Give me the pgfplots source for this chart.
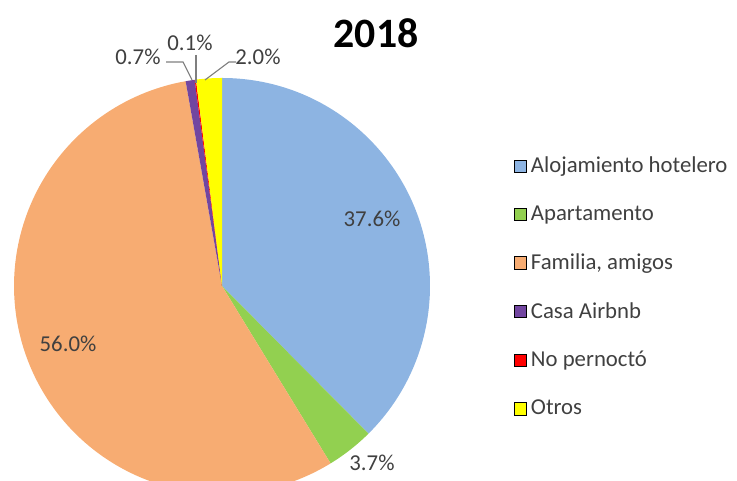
\documentclass[border=0pt]{standalone}
\usepackage{pgfplots}
\pgfplotsset{compat=1.18}
\usepackage{pgfplotstable}
\usepackage{fontspec}
\setmainfont{Carlito}

\definecolor{cHotel}{HTML}{8DB4E2}
\definecolor{cApart}{HTML}{92D050}
\definecolor{cFam}{HTML}{F7AC72}
\definecolor{cAirbnb}{HTML}{7246A0}
\definecolor{cNo}{HTML}{FF0000}
\definecolor{cOtros}{HTML}{FFFF00}
\definecolor{txt}{HTML}{404040}
\definecolor{leader}{HTML}{7F7F7F}

% share of each slice, clockwise from 12 o'clock
\pgfplotstableread{
value color
37.6 cHotel
3.7 cApart
56.0 cFam
0.7 cAirbnb
0.1 cNo
2.0 cOtros
}\piedata

% start/end angles of the slices
\pgfmathsetmacro\pietotal{100.1}
\def\piecum{0}
\foreach \i in {0,...,5}{%
  \pgfplotstablegetelem{\i}{value}\of\piedata%
  \let\v\pgfplotsretval%
  \pgfplotstablegetelem{\i}{color}\of\piedata%
  \expandafter\xdef\csname pieC\i\endcsname{\pgfplotsretval}%
  \pgfmathsetmacro\s{90-\piecum/\pietotal*360}%
  \pgfmathsetmacro\e{90-(\piecum+\v)/\pietotal*360}%
  \expandafter\xdef\csname pieS\i\endcsname{\s}%
  \expandafter\xdef\csname pieE\i\endcsname{\e}%
  \pgfmathsetmacro\c{\piecum+\v}%
  \xdef\piecum{\c}%
}
\def\R{3.951cm}

\begin{document}
\begin{tikzpicture}
\begin{axis}[
  width=14cm, height=9.1368cm, scale only axis,
  xmin=0, xmax=737, ymin=0, ymax=481,
  hide axis, clip=true,
  legend cell align=left,
  legend style={at={(axis cs:508,330)}, anchor=north west, draw=none, fill=none,
    font=\fontsize{12.3}{14}\selectfont, text=txt, row sep=14.4pt,
    nodes={inner sep=1pt}},
  legend image code/.code={\fill[#1] (0pt,-3.3pt) rectangle (6.6pt,3.3pt);},
]
\coordinate (bl) at (rel axis cs:0,0);
\coordinate (tr) at (rel axis cs:1,1);
\pgfplotsinvokeforeach{0,...,5}{
  \fill[fill=\csname pieC#1\endcsname] (axis cs:222,195) -- ++(\csname pieS#1\endcsname:\R)
    arc[start angle=\csname pieS#1\endcsname, end angle=\csname pieE#1\endcsname, radius=\R] -- cycle;
}
\addlegendimage{fill=cHotel}\addlegendentry{\hspace{1.2pt}Alojamiento hotelero}
\addlegendimage{fill=cApart}\addlegendentry{\hspace{1.2pt}Apartamento}
\addlegendimage{fill=cFam}\addlegendentry{\hspace{1.2pt}Familia, amigos}
\addlegendimage{fill=cAirbnb}\addlegendentry{\hspace{1.2pt}Casa Airbnb}
\addlegendimage{fill=cNo}\addlegendentry{\hspace{1.2pt}No pernoctó}
\addlegendimage{fill=cOtros}\addlegendentry{\hspace{1.2pt}Otros}

\draw[leader, line width=0.6pt] (axis cs:166,419) -- (axis cs:183,419) -- (axis cs:192,401);
\draw[leader, line width=0.6pt] (axis cs:196,426) -- (axis cs:196,398);
\draw[leader, line width=0.6pt] (axis cs:205,401) -- (axis cs:229,419) -- (axis cs:236,419);

\begin{scope}[every node/.style={font=\fontsize{12.3}{14}\selectfont, text=txt, inner sep=0pt}]
\node at (axis cs:372,262) {37.6\%};
\node at (axis cs:68,137) {56.0\%};
\node at (axis cs:372,18) {3.7\%};
\node at (axis cs:138,424) {0.7\%};
\node at (axis cs:190,438) {0.1\%};
\node at (axis cs:258,424) {2.0\%};
\end{scope}
\node[font=\fontsize{22.6}{25}\selectfont\bfseries, inner sep=0pt] at (axis cs:376,448) {2018};
\end{axis}
\pgfresetboundingbox
\path (bl) rectangle (tr);
\end{tikzpicture}
\end{document}
